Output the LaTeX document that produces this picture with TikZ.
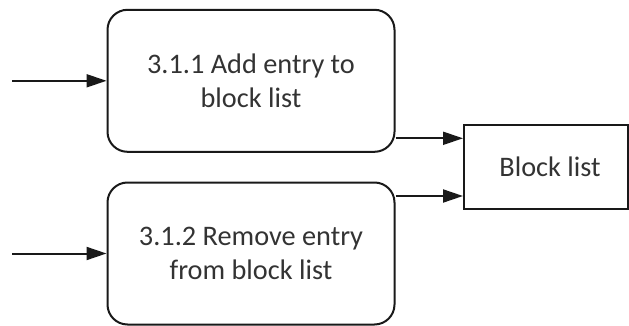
\documentclass[tikz,border=0pt]{standalone}
\usepackage{fontspec}
\setmainfont{Carlito}
\usetikzlibrary{arrows.meta}
\begin{document}
\begin{tikzpicture}[x=1pt,y=-1pt,
  every node/.style={font=\fontsize{28.3}{34}\selectfont, text=black!80},
  process/.style={draw=black!90, line width=2pt, rounded corners=20pt,
    minimum width=287pt, minimum height=142pt, inner sep=0pt, align=center},
  store/.style={draw=black!90, line width=2pt, minimum width=164pt,
    minimum height=84pt, inner sep=0pt},
  flow/.style={draw=black!90, line width=2pt,
    -{Triangle[length=20pt,width=13pt]}}]
  \useasboundingbox (0,0) rectangle (629,326);

  % processes
  \node[process] (add) at (251,80.8) {3.1.1 Add entry to\\block list};
  \node[process] (rem) at (251,253.5) {3.1.2 Remove entry\\from block list};

  % data store
  \node[store] (bl) at (546,167) {\hspace*{8pt}Block list};

  % incoming flows
  \coordinate (inA) at (12,80.8);
  \coordinate (inB) at (12,253.5);
  \draw[flow] (inA) -- (add.west);
  \draw[flow] (inB) -- (rem.west);

  % flows into the store
  \coordinate (outA) at ([yshift=14.5pt]add.south east);
  \coordinate (outB) at ([yshift=-14.5pt]rem.north east);
  \draw[flow] (outA) -- (outA -| bl.west);
  \draw[flow] (outB) -- (outB -| bl.west);
\end{tikzpicture}
\end{document}
